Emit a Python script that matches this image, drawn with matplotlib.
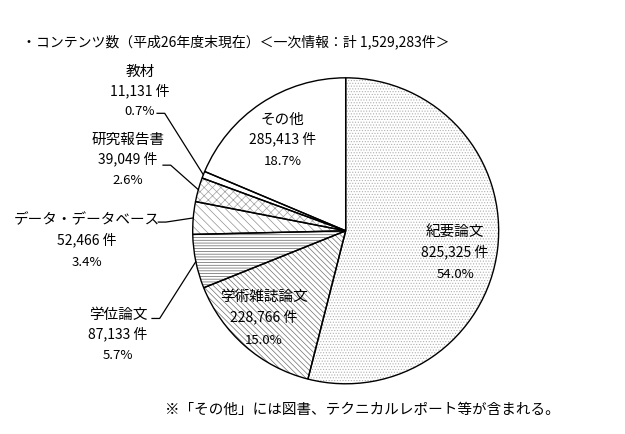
import numpy as np
import matplotlib
matplotlib.use("Agg")
import matplotlib.pyplot as plt

plt.rcParams['font.family'] = ['Noto Sans CJK JP', 'DejaVu Sans']
plt.rcParams['hatch.linewidth'] = 0.5

# data (clockwise from 12 o'clock)
categories = ['紀要論文', '学術雑誌論文', '学位論文', 'データ・データベース', '研究報告書', '教材', 'その他']
counts = [825325, 228766, 87133, 52466, 39049, 11131, 285413]
shares = ['54.0%', '15.0%', '5.7%', '3.4%', '2.6%', '0.7%', '18.7%']
count_labels = ['825,325 件', '228,766 件', '87,133 件', '52,466 件', '39,049 件', '11,131 件', '285,413 件']

hatches = ['......', '\\\\\\\\\\\\', '------', '\\\\\\\\', 'xxxx', '', '']
hatch_colors = ['#b0b0b0', '#707070', '#606060', '#909090', '#a0a0a0', 'black', 'black']

# label positions in pie data units (radius = 1)
label_pos = [(0.715, -0.01), (-0.534, -0.43), (-1.488, -0.552), (-1.691, 0.07),
             (-1.423, 0.593), (-1.344, 1.037), (-0.41, 0.724)]
leader_start = [None, None, (-1.266, -0.573), (-1.225, 0.057),
                (-1.194, 0.429), (-1.233, 0.768), None]
line_gap = [0.128, 0.135, 0.12, 0.13, 0.122, 0.12, 0.124]

fig = plt.figure(figsize=(6.25, 4.34), dpi=100)
ax = fig.add_axes([0.3083, 0.1157, 0.4896, 0.705])

# filled / hatched wedges
wedges, _ = ax.pie(counts, startangle=90, counterclock=False, colors=['white'] * 7,
                   wedgeprops=dict(linewidth=0))
for w, h, c in zip(wedges, hatches, hatch_colors):
    w.set_hatch(h)
    w.set_edgecolor(c)
    w.set_linewidth(0)
# black outlines on top
ax.pie(counts, startangle=90, counterclock=False,
       wedgeprops=dict(fill=False, edgecolor='black', linewidth=1.0))
ax.set_xlim(-1, 1)
ax.set_ylim(-1, 1)
ax.set_aspect('equal')

frac = np.array(counts) / np.sum(counts)
ends = 90 - 360 * np.cumsum(frac)
mids = ends + 180 * frac

for i, cat in enumerate(categories):
    x, y = label_pos[i]
    g = line_gap[i]
    ax.text(x, y, cat, ha='center', va='center', fontsize=10.5, clip_on=False)
    ax.text(x, y - g, count_labels[i], ha='center', va='center', fontsize=10, clip_on=False)
    ax.text(x, y - 2 * g - 0.02, shares[i], ha='center', va='center', fontsize=9.5, clip_on=False)
    if leader_start[i] is not None:
        sx, sy = leader_start[i]
        a = np.deg2rad(mids[i])
        ex, ey = np.cos(a), np.sin(a)
        ax.plot([sx, sx + 0.05, ex], [sy, sy, ey], color='black', lw=0.9, clip_on=False)

fig.text(0.035, 0.903, '・コンテンツ数（平成26年度末現在）＜一次情報：計 1,529,283件＞',
         fontsize=10, ha='left', va='center')
fig.text(0.264, 0.055, '※「その他」には図書、テクニカルレポート等が含まれる。',
         fontsize=10.5, ha='left', va='center')

fig.savefig('out.png', dpi=100, facecolor='white')
